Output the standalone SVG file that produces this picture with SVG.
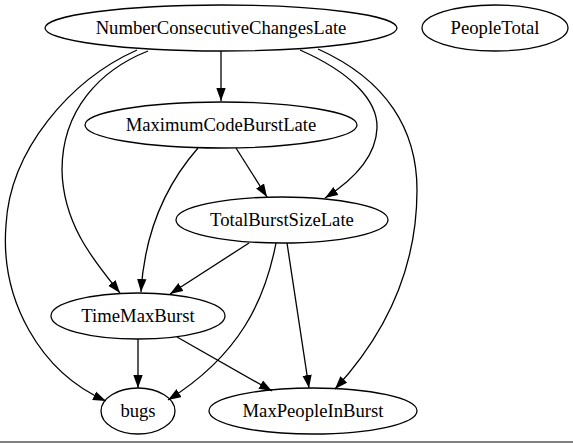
<svg xmlns="http://www.w3.org/2000/svg" width="573" height="443" viewBox="0 0 573 443">
<style>
.n ellipse{fill:none;stroke:#000;stroke-width:1.3}
.n text{font-family:"Liberation Serif","Times New Roman",serif;font-size:18.67px;text-anchor:middle;fill:#000}
#edges path{fill:none;stroke:#000;stroke-width:1.3;marker-end:url(#a)}
</style>
<defs>
<marker id="a" markerWidth="14" markerHeight="10" refX="13" refY="5" orient="auto" markerUnits="userSpaceOnUse"><path d="M0,0.3 L13,5 L0,9.7 Z" fill="#000"/></marker>
</defs>
<rect x="0" y="0" width="573" height="443" fill="#fff"/>
<rect x="0" y="441" width="573" height="2" fill="#808080"/>
<g id="edges">
<path d="M221,51 L221,101"/>
<path d="M300,50 C350,72 378,100 377,128 C376,158 350,182 325,198"/>
<path d="M318,49 C387,80 417,130 417,190 C417,270 385,335 335,389"/>
<path d="M148,51 C100,70 62,110 62,170 C63,225 95,262 120,293"/>
<path d="M137,50 C70,80 10,150 6,225 C0,300 40,372 106,401"/>
<path d="M236,148 L267,197"/>
<path d="M198,148 C170,180 145,225 141,292"/>
<path d="M249,243 L170,294"/>
<path d="M276,243 C265,300 240,355 168,400"/>
<path d="M287,243 L309,388"/>
<path d="M138,339 L138,388"/>
<path d="M177,337 L272,391"/>
</g>
<g id="NumberConsecutiveChangesLate" class="n"><ellipse cx="221" cy="28" rx="176" ry="23"/><text x="221" y="34">NumberConsecutiveChangesLate</text></g>
<g id="PeopleTotal" class="n"><ellipse cx="495" cy="28" rx="73" ry="23"/><text x="495" y="34">PeopleTotal</text></g>
<g id="MaximumCodeBurstLate" class="n"><ellipse cx="221" cy="125" rx="136" ry="23"/><text x="221" y="131">MaximumCodeBurstLate</text></g>
<g id="TotalBurstSizeLate" class="n"><ellipse cx="282" cy="220" rx="106" ry="23"/><text x="282" y="226">TotalBurstSizeLate</text></g>
<g id="TimeMaxBurst" class="n"><ellipse cx="138" cy="316" rx="87" ry="23"/><text x="138" y="322">TimeMaxBurst</text></g>
<g id="bugs" class="n"><ellipse cx="138" cy="411" rx="37" ry="23"/><text x="138" y="417">bugs</text></g>
<g id="MaxPeopleInBurst" class="n"><ellipse cx="313" cy="411" rx="104" ry="23"/><text x="313" y="417">MaxPeopleInBurst</text></g>
</svg>
